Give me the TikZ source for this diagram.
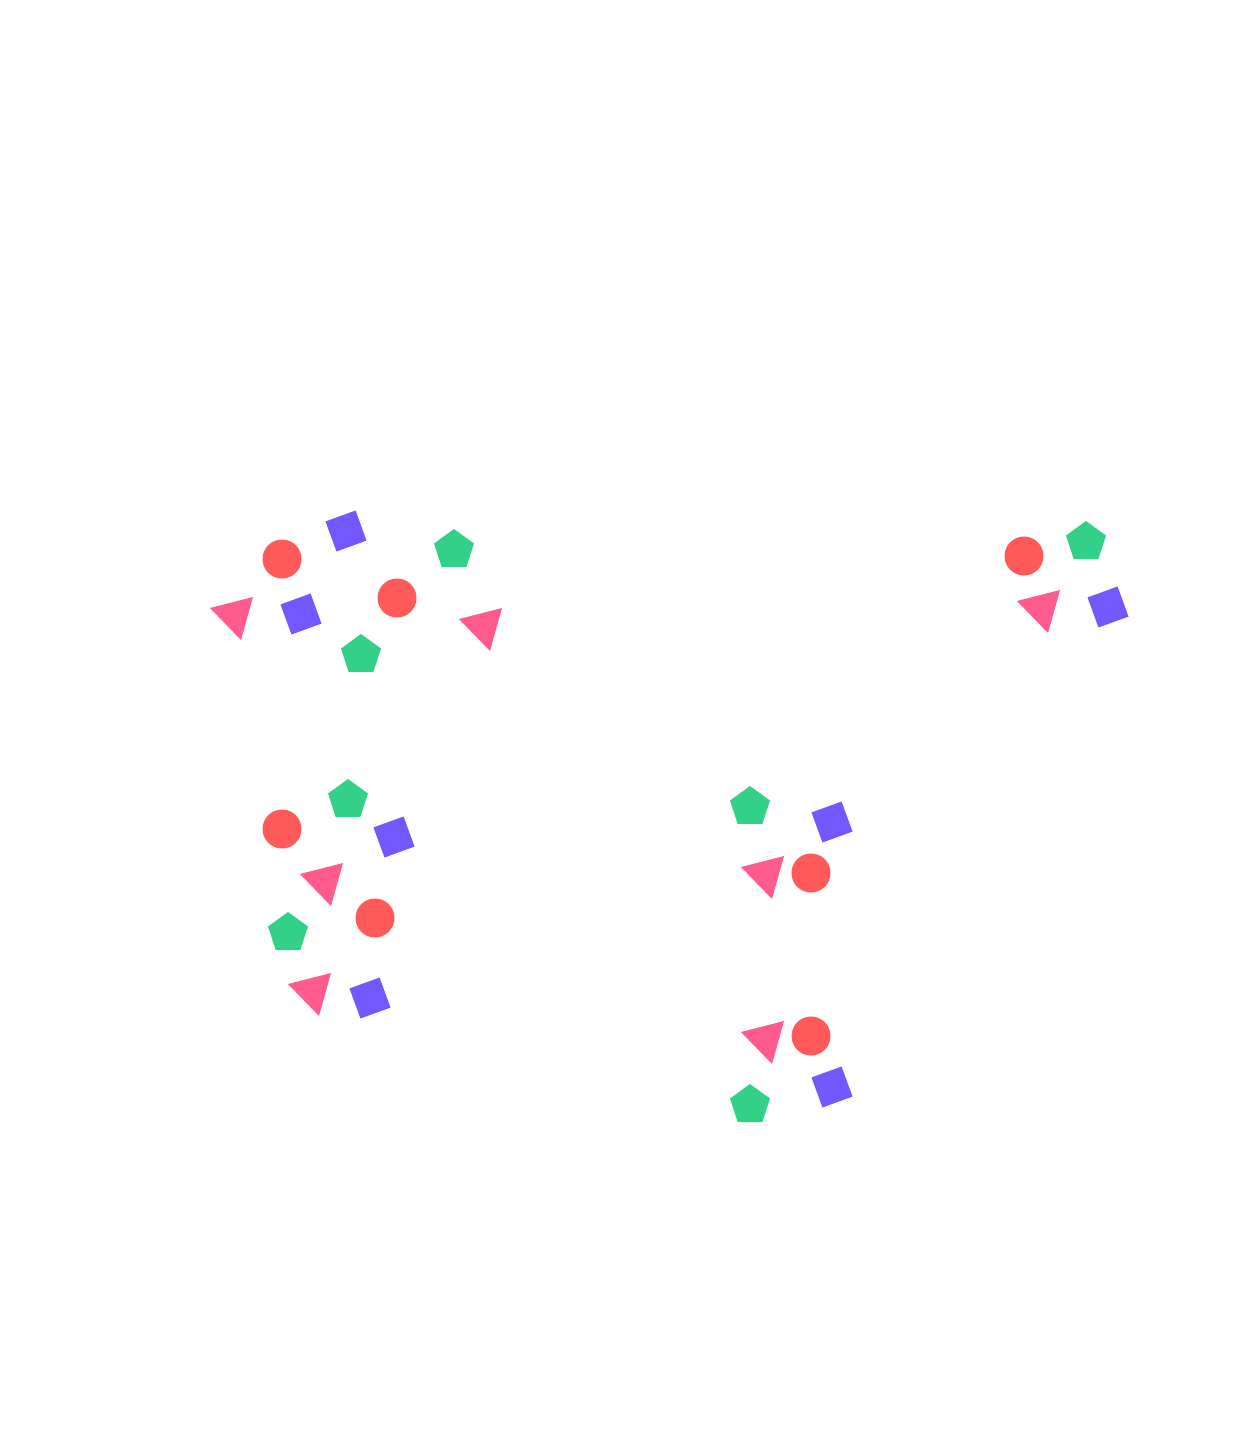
\documentclass[tikz,border=0pt]{standalone}
\usetikzlibrary{shapes.geometric}
\definecolor{cred}{HTML}{FF5A5A}
\definecolor{cpur}{HTML}{7458FF}
\definecolor{cgrn}{HTML}{33D188}
\definecolor{cpink}{HTML}{FF5C8D}
\begin{document}
\begin{tikzpicture}[x=1pt,y=-1pt,
 circ/.style={fill=cred,circle,minimum size=39pt,inner sep=0pt,draw=none},
 sq/.style={fill=cpur,rectangle,minimum size=32pt,inner sep=0pt,rotate=20,draw=none},
 pent/.style={fill=cgrn,regular polygon,regular polygon sides=5,minimum size=42pt,inner sep=0pt,draw=none}]
\useasboundingbox (0,0) rectangle (1252,1447);
\foreach \x/\y [count=\i] in {282/559,397/598,1024/556,282/829,375/918,811/873,811/1036}
  \node[circ] (c\i) at (\x,\y) {};
\foreach \x/\y [count=\i] in {346/531,301/614,1108/607,394/837,370/998,832/822,832/1087}
  \node[sq] (s\i) at (\x,\y) {};
\foreach \x/\y [count=\i] in {454/550,361/655,1086/542,348/800,288/933,750/807,750/1105}
  \node[pent] (p\i) at (\x,\y) {};
\foreach \x/\y in {210/608,459/619,300/874,288/984,741/867,741/1032,1017/601}
  \fill[cpink] (\x,\y) -- ++(43,-11) -- ++(-12,43) -- cycle;
\end{tikzpicture}
\end{document}
